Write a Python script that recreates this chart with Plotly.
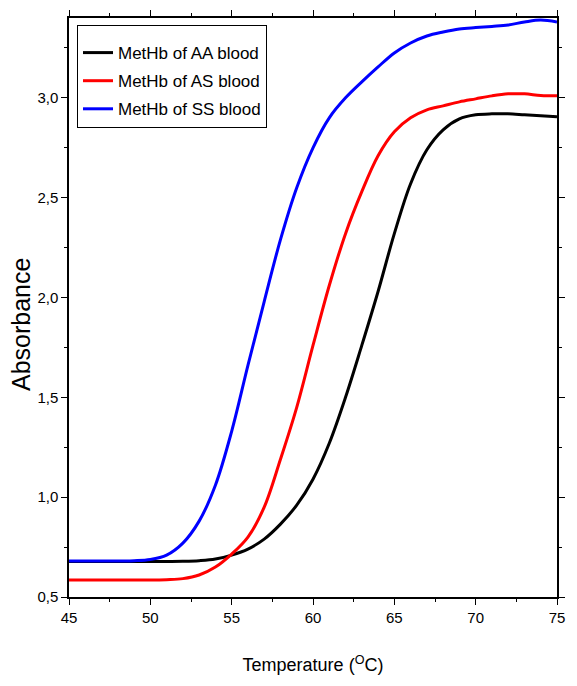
import plotly.graph_objects as go

temperature = [45, 47, 49, 50, 51, 52, 53, 54, 55, 56, 57, 58, 59, 60,
               61, 62, 63, 64, 65, 66, 67, 68, 69, 70, 71, 72, 73, 74, 75]

abs_AA = [0.678, 0.678, 0.678, 0.678, 0.678, 0.679, 0.682, 0.69, 0.71, 0.74,
          0.79, 0.865, 0.96, 1.09, 1.27, 1.50, 1.76, 2.03, 2.32, 2.57, 2.74,
          2.84, 2.895, 2.915, 2.92, 2.92, 2.915, 2.91, 2.905]

abs_AS = [0.585, 0.585, 0.585, 0.585, 0.587, 0.592, 0.61, 0.65, 0.715, 0.80,
          0.95, 1.19, 1.45, 1.76, 2.06, 2.32, 2.53, 2.71, 2.83, 2.90, 2.94,
          2.96, 2.98, 2.995, 3.01, 3.02, 3.02, 3.012, 3.01]

abs_SS = [0.68, 0.68, 0.682, 0.688, 0.71, 0.77, 0.88, 1.06, 1.33, 1.66,
          1.98, 2.29, 2.55, 2.75, 2.90, 3.00, 3.08, 3.155, 3.225, 3.275, 3.31,
          3.33, 3.345, 3.352, 3.358, 3.365, 3.38, 3.39, 3.38]

series = [
    ("MetHb of AA blood", abs_AA, "#000000"),
    ("MetHb of AS blood", abs_AS, "#ff0000"),
    ("MetHb of SS blood", abs_SS, "#0000ff"),
]

x_ticks = [45, 50, 55, 60, 65, 70, 75]
y_ticks = [0.5, 1.0, 1.5, 2.0, 2.5, 3.0]

FONT = "Liberation Sans, Arial, sans-serif"

fig = go.Figure()
for i, (name, vals, col) in enumerate(series):
    fig.add_trace(go.Scatter(
        x=temperature, y=vals, mode="lines", name=name,
        line=dict(color=col, width=3, shape="spline", smoothing=1.0),
        legendgroup=f"g{i}",
    ))

axis_common = dict(
    showgrid=False, zeroline=False,
    showline=True, linecolor="black", linewidth=1.5, mirror="ticks",
    ticks="outside", ticklen=6, tickwidth=1.2, tickcolor="black",
    tickfont=dict(family=FONT, size=15, color="black"),
)

fig.update_xaxes(
    range=[45, 75], tickvals=x_ticks,
    minor=dict(dtick=2.5, ticks="outside", ticklen=3, tickcolor="black", tickwidth=1),
    title=dict(text="Temperature (<sup>O</sup>C)",
               font=dict(family=FONT, size=18, color="black"), standoff=34),
    **axis_common,
)
fig.update_yaxes(
    range=[0.5, 3.4], tickvals=y_ticks, tickformat=".1f",
    minor=dict(dtick=0.25, ticks="outside", ticklen=3, tickcolor="black", tickwidth=1),
    **axis_common,
)

fig.add_annotation(
    text="Absorbance", xref="paper", yref="paper",
    x=-0.098, y=0.47, xanchor="center", yanchor="middle",
    textangle=-90, showarrow=False,
    font=dict(family=FONT, size=25, color="black"),
)

fig.update_layout(
    width=577, height=686,
    margin=dict(l=69, r=20, t=10, b=89),
    paper_bgcolor="white", plot_bgcolor="white",
    separators=",.",
    showlegend=True,
    legend=dict(
        x=0.0164, y=0.988, xanchor="left", yanchor="top",
        bgcolor="white", bordercolor="black", borderwidth=1,
        font=dict(family=FONT, size=17, color="black"),
        itemwidth=30, tracegroupgap=3,
        title=dict(text=" ", font=dict(size=7)),
    ),
)

fig.write_html("out.html")
